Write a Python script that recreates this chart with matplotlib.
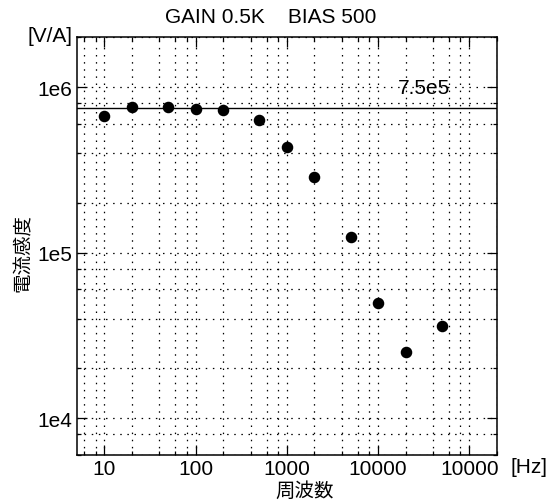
import matplotlib
matplotlib.use("Agg")
import matplotlib.pyplot as plt
from matplotlib.ticker import FixedLocator, NullFormatter

plt.rcParams['font.family'] = ['Liberation Sans', 'Noto Sans CJK JP', 'DejaVu Sans']

freq = [10, 20, 50, 100, 200, 500, 1000, 2000, 5000, 10000, 20000, 50000]
sens = [6.73e5, 7.57e5, 7.57e5, 7.39e5, 7.32e5, 6.37e5, 4.34e5, 2.85e5,
        1.248e5, 4.94e4, 2.51e4, 3.62e4]
ref_value = 7.5e5
ref_label = "7.5e5"
x_ticks = [10, 100, 1000, 10000, 100000]
x_ticklabels = ["10", "100", "1000", "10000", "10000"]
y_ticks = [1e4, 1e5, 1e6]
y_ticklabels = ["1e4", "1e5", "1e6"]
title = "GAIN 0.5K    BIAS 500"
xlabel = "周波数"
ylabel = "電流感度"

W, H = 556, 502
FS = 15
fig = plt.figure(figsize=(W / 100, H / 100), dpi=100)
ax = fig.add_axes([77 / W, 1 - 456 / H, (496.7 - 77) / W, (456 - 38.3) / H])
ax.set_xscale('log')
ax.set_yscale('log')
ax.set_xlim(5, 2e5)
ax.set_ylim(6e3, 2e6)

minor_x = [m * 10 ** e for e in range(0, 6) for m in (2, 4, 6, 8)]
minor_y = [m * 10 ** e for e in range(3, 7) for m in (2, 4, 6, 8)]
ax.xaxis.set_major_locator(FixedLocator(x_ticks))
ax.xaxis.set_minor_locator(FixedLocator(minor_x))
ax.yaxis.set_major_locator(FixedLocator(y_ticks))
ax.yaxis.set_minor_locator(FixedLocator(minor_y))
ax.set_xticklabels(x_ticklabels)
ax.set_yticklabels(y_ticklabels)
ax.xaxis.set_minor_formatter(NullFormatter())
ax.yaxis.set_minor_formatter(NullFormatter())

ax.grid(True, which='both', color='black', linestyle=(0, (1.2, 4.5)), linewidth=0.9)
ax.tick_params(which='both', direction='in', top=True, right=True, labelsize=FS,
               color='black', width=0.9)
ax.tick_params(which='major', length=7)
ax.tick_params(which='minor', length=3)
ax.tick_params(axis='x', pad=3.0)
ax.tick_params(axis='y', pad=3.5)
for s in ax.spines.values():
    s.set_linewidth(1.1)
    s.set_color('black')

ax.axhline(ref_value, color='black', linewidth=1.0, zorder=3)
ax.text(1.65e4, 1.0e6, ref_label, fontsize=FS, ha='left', va='center',
        color='black', zorder=4)
ax.plot(freq, sens, 'o', color='black', markersize=7.3, zorder=5, linestyle='none')

fig.text(270.5 / W, 1 - 17.5 / H, title, fontsize=FS, ha='center', va='center')
fig.text(72.5 / W, 1 - 36.5 / H, "[V/A]", fontsize=FS, ha='right', va='center')
fig.text(511 / W, 1 - 468 / H, "[Hz]", fontsize=FS, ha='left', va='center')
fig.text(305 / W, 1 - 491 / H, xlabel, fontsize=14, ha='center', va='center',
         family=['Noto Sans CJK JP', 'DejaVu Sans'])
fig.text(23 / W, 1 - 253 / H, ylabel, fontsize=14, ha='center', va='center',
         rotation=90, family=['Noto Sans CJK JP', 'DejaVu Sans'])

fig.savefig("out.png", dpi=100)
